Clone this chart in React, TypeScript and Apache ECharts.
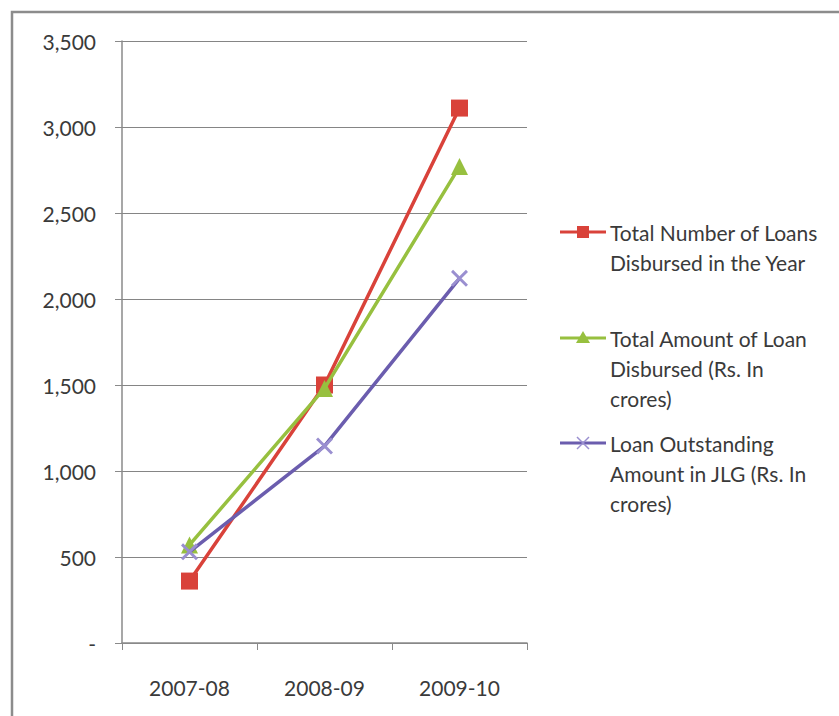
import React, { useEffect, useRef } from "react";
import * as echarts from "echarts";

const years = ["2007-08", "2008-09", "2009-10"];
const loansCount = [360, 1500, 3110];
const amountDisbursed = [570, 1480, 2770];
const outstandingJLG = [530, 1145, 2120];

const seriesNames = [
  "Total Number of Loans Disbursed in the Year",
  "Total Amount of Loan Disbursed (Rs. In crores)",
  "Loan Outstanding Amount in JLG (Rs. In crores)",
];
const legendLines = [
  ["Total Number of Loans", "Disbursed in the Year"],
  ["Total Amount of Loan", "Disbursed (Rs. In", "crores)"],
  ["Loan Outstanding", "Amount in JLG (Rs. In", "crores)"],
];

const RED = "#D9423A";
const GREEN = "#97C03F";
const PURPLE = "#6B5DAE";
const CROSS = "#9A8FD0";
const FONT = "Lato, 'Open Sans', sans-serif";
const TEXT = "#3a3a3a";
const FS = 21;

const crossPath =
  "path://M0,1.2L1.2,0L10,8.8L8.8,10Z M8.8,0L10,1.2L1.2,10L0,8.8Z";

function legendEntry(
  idx: number,
  top: number,
  color: string,
  marker: any
): any {
  const lines = legendLines[idx];
  const children: any[] = [
    {
      type: "line",
      shape: { x1: 560, y1: top, x2: 606, y2: top },
      style: { stroke: color, lineWidth: 3 },
    },
    marker,
  ];
  lines.forEach((t, i) => {
    children.push({
      type: "text",
      x: 610,
      y: top + i * 30,
      style: {
        text: t,
        fill: TEXT,
        font: `${FS}px ${FONT}`,
        verticalAlign: "middle",
        align: "left",
      },
    });
  });
  return { type: "group", children };
}

export default function App() {
  const ref = useRef<HTMLDivElement>(null);

  useEffect(() => {
    document.body.style.margin = "0";
    if (!ref.current) return;
    const chart = echarts.init(ref.current, null, { renderer: "svg" });

    const option: any = {
      animation: false,
      backgroundColor: "#ffffff",
      grid: { left: 122, top: 41, width: 405, height: 602 },
      xAxis: {
        type: "category",
        data: years,
        boundaryGap: true,
        axisLine: { lineStyle: { color: "#8a8a8a", width: 1.5 } },
        axisTick: {
          show: true,
          inside: false,
          length: 7,
          lineStyle: { color: "#8a8a8a" },
        },
        axisLabel: {
          margin: 34,
          color: TEXT,
          fontFamily: FONT,
          fontSize: FS,
        },
      },
      yAxis: {
        type: "value",
        min: 0,
        max: 3500,
        interval: 500,
        axisLine: { show: true, lineStyle: { color: "#8a8a8a", width: 1.5 } },
        axisTick: { show: true, length: 7, lineStyle: { color: "#8a8a8a" } },
        splitLine: { lineStyle: { color: "#858585", width: 1 } },
        axisLabel: {
          margin: 26,
          color: TEXT,
          fontFamily: FONT,
          fontSize: FS,
          formatter: (v: number) =>
            v === 0 ? "-" : v.toLocaleString("en-US"),
        },
      },
      series: [
        {
          name: seriesNames[0],
          type: "line",
          data: loansCount,
          symbol: "rect",
          symbolSize: 17,
          lineStyle: { color: RED, width: 3.5 },
          itemStyle: { color: RED },
          z: 3,
        },
        {
          name: seriesNames[1],
          type: "line",
          data: amountDisbursed,
          symbol: "triangle",
          symbolSize: 17,
          lineStyle: { color: GREEN, width: 3.5 },
          itemStyle: { color: GREEN },
          z: 4,
        },
        {
          name: seriesNames[2],
          type: "line",
          data: outstandingJLG,
          symbol: crossPath,
          symbolSize: 17,
          lineStyle: { color: PURPLE, width: 3.5 },
          itemStyle: { color: CROSS },
          z: 5,
        },
      ],
      graphic: [
        {
          type: "rect",
          shape: { x: 12, y: 12, width: 860, height: 760 },
          style: { fill: "none", stroke: "#8c8c8c", lineWidth: 2.5 },
          silent: true,
        },
        legendEntry(0, 232, RED, {
          type: "rect",
          shape: { x: 577, y: 226, width: 12, height: 12 },
          style: { fill: RED },
        }),
        legendEntry(1, 338, GREEN, {
          type: "polygon",
          shape: {
            points: [
              [583, 331],
              [590, 343],
              [576, 343],
            ],
          },
          style: { fill: GREEN },
        }),
        legendEntry(2, 443, PURPLE, {
          type: "group",
          children: [
            {
              type: "line",
              shape: { x1: 577, y1: 437, x2: 589, y2: 449 },
              style: { stroke: CROSS, lineWidth: 1.5 },
            },
            {
              type: "line",
              shape: { x1: 589, y1: 437, x2: 577, y2: 449 },
              style: { stroke: CROSS, lineWidth: 1.5 },
            },
          ],
        }),
      ],
    };

    chart.setOption(option);
    return () => chart.dispose();
  }, []);

  return <div ref={ref} style={{ width: 839, height: 716 }} />;
}
